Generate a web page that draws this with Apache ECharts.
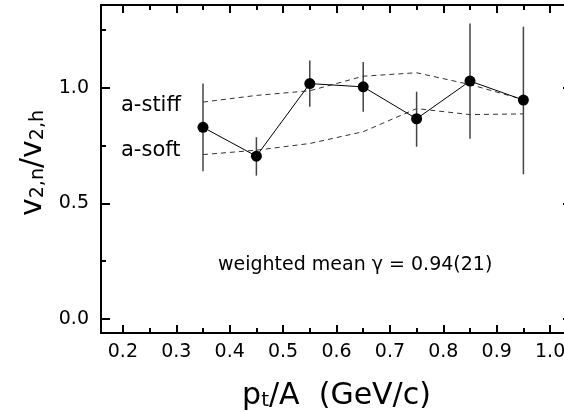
<!DOCTYPE html>
<html>
<head>
<meta charset="utf-8">
<script src="https://cdn.jsdelivr.net/npm/echarts@6.0.0/dist/echarts.min.js"></script>
<style>
  html, body { margin: 0; padding: 0; background: #fff; }
  #chart { width: 564px; height: 412px; }
</style>
</head>
<body>
<div id="chart"></div>
<script>
// 数据：pt/A 以及 v2,n / v2,h
const ptA = [0.35, 0.45, 0.55, 0.65, 0.75, 0.85, 0.95];
const ratio = [0.829, 0.704, 1.018, 1.004, 0.866, 1.029, 0.947];
const errLow = [0.639, 0.620, 0.918, 0.896, 0.745, 0.779, 0.626];
const errHigh = [1.018, 0.786, 1.118, 1.112, 0.983, 1.278, 1.264];
const stiff = [0.938, 0.967, 0.987, 1.050, 1.065, 1.014, 0.949];
const soft = [0.711, 0.730, 0.759, 0.810, 0.910, 0.884, 0.887];

// 刻度
const xMajor = [0.2, 0.3, 0.4, 0.5, 0.6, 0.7, 0.8, 0.9, 1.0];
const xMinor = [0.25, 0.35, 0.45, 0.55, 0.65, 0.75, 0.85, 0.95];
const yMajor = [0, 0.5, 1.0];
const yMinor = [0.25, 0.75, 1.25];

const FONT = 'DejaVu Sans';
const X_MIN = 0.159, X_MAX = 1.041;
const Y_MIN = -0.0606, Y_MAX = 1.358;

const chart = echarts.init(document.getElementById('chart'));

function pair(arr) {
    return ptA.map((x, i) => [x, arr[i]]);
}

function xAxisDef(pos, ticks, len, main) {
    return {
        type: 'value', position: pos, min: X_MIN, max: X_MAX,
        axisLine: { show: main, onZero: false, lineStyle: { color: '#000', width: 2 } },
        axisTick: { inside: true, length: len, customValues: ticks, lineStyle: { color: '#000', width: 2 } },
        axisLabel: { show: false },
        splitLine: { show: false }
    };
}

function yAxisDef(pos, ticks, len, main) {
    return {
        type: 'value', position: pos, min: Y_MIN, max: Y_MAX,
        axisLine: { show: main, onZero: false, lineStyle: { color: '#000', width: 2 } },
        axisTick: { inside: true, length: len, customValues: ticks, lineStyle: { color: '#000', width: 2 } },
        axisLabel: { show: false },
        splitLine: { show: false }
    };
}

const xMain = xAxisDef('bottom', xMajor, 8, true);
xMain.axisLabel = {
    show: true, customValues: xMajor, margin: 10, color: '#000',
    fontFamily: FONT, fontSize: 19,
    formatter: v => v.toFixed(1)
};
xMain.name = 'p{sub|t}/A  (GeV/c)';
xMain.nameLocation = 'middle';
xMain.nameGap = 48;
xMain.nameTextStyle = {
    color: '#000', fontFamily: FONT, fontSize: 30, lineHeight: 30, verticalAlign: 'top',
    rich: {
        sub: { fontFamily: FONT, fontSize: 20, lineHeight: 20, padding: [17, 0, 0, 0], verticalAlign: 'bottom', color: '#000' }
    }
};

const yMain = yAxisDef('left', yMajor, 9, true);
yMain.axisLabel = {
    show: true, customValues: yMajor, margin: 12, color: '#000',
    fontFamily: FONT, fontSize: 19,
    formatter: v => v.toFixed(1)
};
yMain.name = 'v{sub|2,n}/v{sub|2,h}';
yMain.nameLocation = 'middle';
yMain.nameGap = 64;
yMain.nameTextStyle = {
    color: '#000', fontFamily: FONT, fontSize: 30, lineHeight: 30, verticalAlign: 'top',
    padding: [0, 0, 0, 12],
    rich: {
        sub: { fontFamily: FONT, fontSize: 19, lineHeight: 19, padding: [15, 0, 0, 0], verticalAlign: 'bottom', color: '#000' }
    }
};

const option = {
    animation: false,
    backgroundColor: '#fff',
    grid: { left: 101, top: 5, width: 471, height: 328, containLabel: false, outerBoundsMode: 'none' },
    xAxis: [
        xMain,
        xAxisDef('bottom', xMinor, 5, false),
        xAxisDef('top', xMajor, 8, true),
        xAxisDef('top', xMinor, 5, false)
    ],
    yAxis: [
        yMain,
        yAxisDef('left', yMinor, 5, false),
        yAxisDef('right', yMajor, 9, true),
        yAxisDef('right', yMinor, 5, false)
    ],
    graphic: [
        { type: 'text', left: 121, top: 95, style: { text: 'a-stiff', font: '21px ' + FONT, fill: '#000' } },
        { type: 'text', left: 121, top: 140, style: { text: 'a-soft', font: '21px ' + FONT, fill: '#000' } },
        { type: 'text', left: 218, top: 256, style: { text: 'weighted mean γ = 0.94(21)', font: '19px ' + FONT, fill: '#000' } }
    ],
    series: [
        {
            name: 'a-stiff', type: 'line', data: pair(stiff), symbol: 'none',
            lineStyle: { color: '#333', width: 1, type: [5, 4] }, z: 2
        },
        {
            name: 'a-soft', type: 'line', data: pair(soft), symbol: 'none',
            lineStyle: { color: '#333', width: 1, type: [5, 4] }, z: 2
        },
        {
            name: 'error', type: 'custom',
            data: ptA.map((x, i) => [x, errLow[i], errHigh[i]]),
            renderItem: (params, api) => {
                const lo = api.coord([api.value(0), api.value(1)]);
                const hi = api.coord([api.value(0), api.value(2)]);
                return {
                    type: 'line',
                    shape: { x1: lo[0], y1: lo[1], x2: hi[0], y2: hi[1] },
                    style: { stroke: '#444', lineWidth: 1.5 }
                };
            },
            z: 3
        },
        {
            name: 'v2 ratio', type: 'line', data: pair(ratio),
            symbol: 'circle', symbolSize: 11,
            itemStyle: { color: '#000' },
            lineStyle: { color: '#000', width: 1 }, z: 4
        }
    ]
};

chart.setOption(option);
</script>
</body>
</html>
